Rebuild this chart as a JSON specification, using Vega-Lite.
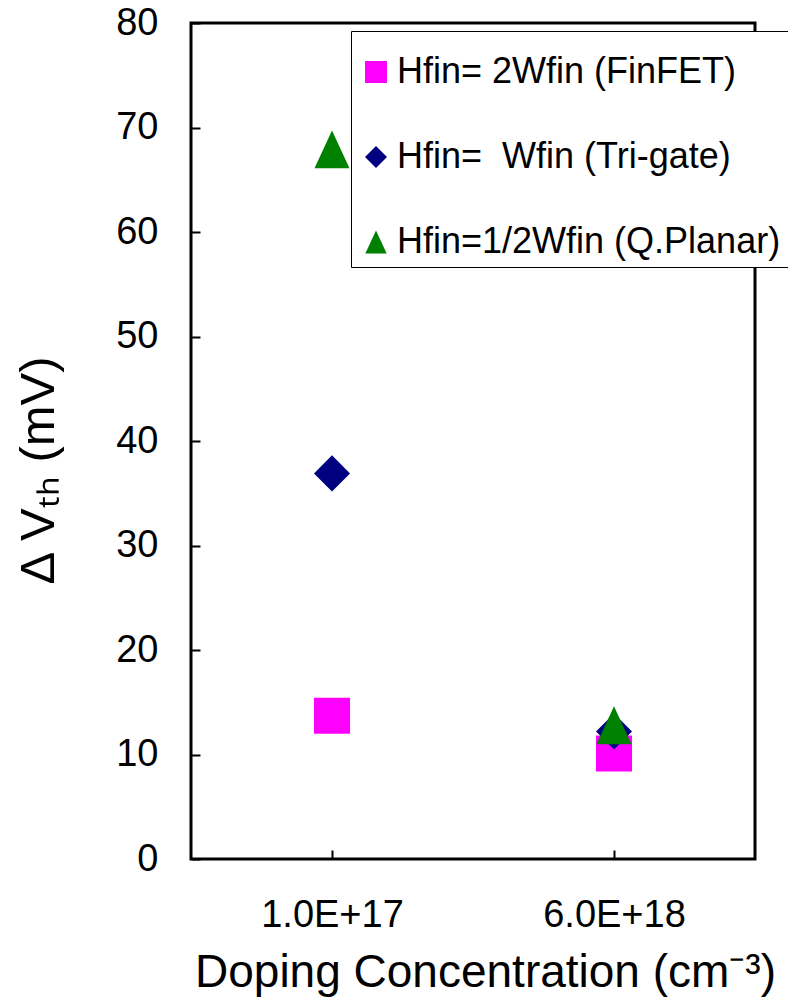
{
  "$schema": "https://vega.github.io/schema/vega-lite/v6.json",
  "width": 564,
  "height": 836,
  "autosize": {"type": "none"},
  "padding": {"left": 191, "top": 23, "right": 33, "bottom": 143},
  "background": "white",
  "config": {
    "view": {"stroke": "black", "strokeWidth": 3},
    "font": "Liberation Sans"
  },
  "data": {
    "values": [
      {"doping": "1.0E+17", "series": "Hfin= 2Wfin (FinFET)", "dvth": 13.7},
      {"doping": "6.0E+18", "series": "Hfin= 2Wfin (FinFET)", "dvth": 10.1},
      {"doping": "1.0E+17", "series": "Hfin= \u00a0Wfin (Tri-gate)", "dvth": 36.9},
      {"doping": "6.0E+18", "series": "Hfin= \u00a0Wfin (Tri-gate)", "dvth": 12.2},
      {"doping": "1.0E+17", "series": "Hfin=1/2Wfin (Q.Planar)", "dvth": 67.9},
      {"doping": "6.0E+18", "series": "Hfin=1/2Wfin (Q.Planar)", "dvth": 12.8}
    ]
  },
  "mark": {"type": "point", "filled": true, "opacity": 1, "size": 1300, "strokeWidth": 0},
  "encoding": {
    "x": {
      "field": "doping", "type": "nominal", "sort": null,
      "scale": {"type": "point", "padding": 0.5},
      "axis": {
        "title": "Doping Concentration (cm\u207b\u00b3)",
        "titleFont": "Liberation Sans", "titleFontSize": 46, "titleFontWeight": "normal", "titleColor": "black",
        "titleX": 294, "titleY": 113, "titleBaseline": "middle", "titleAlign": "center",
        "labelAngle": 0, "labelFont": "Liberation Sans", "labelFontSize": 38, "labelColor": "black",
        "labelPadding": 46, "tickSize": -9, "tickWidth": 2, "tickColor": "black",
        "domain": false, "grid": false
      }
    },
    "y": {
      "field": "dvth", "type": "quantitative",
      "scale": {"domain": [0, 80], "nice": false},
      "axis": {
        "title": "\u0394 V\u209c\u2095 (mV)",
        "titleFont": "Liberation Sans", "titleFontSize": 49, "titleFontWeight": "normal", "titleColor": "black",
        "titleX": -153, "titleY": 447, "titleAngle": -90, "titleBaseline": "middle", "titleAlign": "center",
        "values": [0, 10, 20, 30, 40, 50, 60, 70, 80],
        "labelFont": "Liberation Sans", "labelFontSize": 38, "labelColor": "black",
        "labelPadding": 42, "tickSize": -9, "tickWidth": 2, "tickColor": "black",
        "domain": false, "grid": false
      }
    },
    "color": {
      "field": "series", "type": "nominal", "sort": null,
      "scale": {
        "domain": ["Hfin= 2Wfin (FinFET)", "Hfin= \u00a0Wfin (Tri-gate)", "Hfin=1/2Wfin (Q.Planar)"],
        "range": ["#FF00FF", "#000080", "#008000"]
      },
      "legend": {
        "orient": "none", "legendX": 160, "legendY": 8,
        "title": " ", "titleFontSize": 16, "titlePadding": 0,
        "fillColor": "white", "strokeColor": "black",
        "padding": 7, "rowPadding": 49,
        "labelFont": "Liberation Sans", "labelFontSize": 36, "labelColor": "black", "labelLimit": 500,
        "labelOffset": 3, "symbolSize": 484, "symbolStrokeWidth": 0,
        "encode": {"legend": {"update": {"strokeWidth": {"value": 2}}}}
      }
    },
    "shape": {
      "field": "series", "type": "nominal", "sort": null,
      "scale": {
        "domain": ["Hfin= 2Wfin (FinFET)", "Hfin= \u00a0Wfin (Tri-gate)", "Hfin=1/2Wfin (Q.Planar)"],
        "range": ["square", "diamond", "M-0.97,1.05L0,-1.05L0.97,1.05Z"]
      }
    }
  }
}
